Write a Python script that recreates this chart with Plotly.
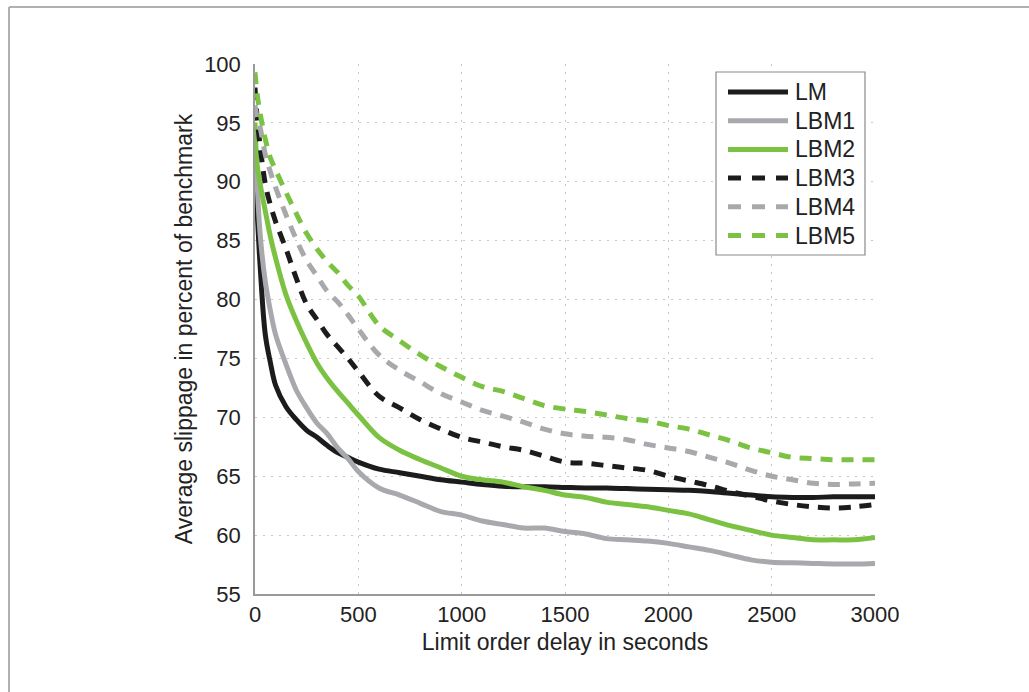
import plotly.graph_objects as go

# ---------------- data ----------------
delay = [0, 10, 25, 50, 75, 100, 150, 200, 250, 300, 350, 400, 450, 500,
         600, 700, 800, 900, 1000, 1100, 1200, 1300, 1400, 1500, 1600, 1700,
         1800, 1900, 2000, 2100, 2200, 2300, 2400, 2500, 2600, 2700, 2800,
         2900, 3000]

LM = [90.0, 87.5, 82.8, 77.0, 74.6, 72.7, 70.9, 69.8, 68.9, 68.3, 67.6, 67.0,
      66.6, 66.2, 65.6, 65.3, 65.0, 64.7, 64.5, 64.3, 64.15, 64.1, 64.1, 64.05,
      64.0, 64.0, 63.95, 63.9, 63.85, 63.8, 63.7, 63.55, 63.4, 63.25, 63.2,
      63.2, 63.25, 63.25, 63.25]
LBM1 = [94.0, 90.0, 85.5, 81.5, 79.0, 77.0, 74.5, 72.3, 70.8, 69.5, 68.6, 67.4,
        66.5, 65.4, 64.0, 63.4, 62.7, 62.0, 61.7, 61.2, 60.9, 60.6, 60.6, 60.3,
        60.1, 59.7, 59.6, 59.5, 59.3, 59.0, 58.7, 58.3, 57.9, 57.7, 57.65,
        57.6, 57.55, 57.55, 57.6]
LBM2 = [95.0, 91.5, 89.8, 87.5, 85.3, 83.5, 80.4, 78.2, 76.3, 74.6, 73.3, 72.2,
        71.2, 70.2, 68.3, 67.2, 66.4, 65.7, 65.0, 64.7, 64.5, 64.1, 63.8, 63.4,
        63.2, 62.8, 62.6, 62.4, 62.1, 61.8, 61.3, 60.8, 60.4, 60.0, 59.8, 59.6,
        59.6, 59.6, 59.8]
LBM3 = [98.0, 95.5, 93.0, 89.8, 88.0, 86.6, 84.3, 81.8, 79.6, 78.3, 77.0, 76.0,
        75.0, 73.9, 71.8, 70.8, 69.8, 69.0, 68.3, 67.9, 67.5, 67.2, 66.7, 66.2,
        66.1, 65.9, 65.7, 65.5, 65.0, 64.6, 64.2, 63.7, 63.3, 62.9, 62.6, 62.4,
        62.3, 62.4, 62.6]
LBM4 = [96.5, 95.5, 94.6, 92.3, 90.8, 89.5, 87.2, 85.1, 83.3, 82.0, 80.7, 79.8,
        78.7, 77.5, 75.3, 74.0, 73.0, 72.0, 71.3, 70.6, 70.1, 69.6, 69.0, 68.6,
        68.4, 68.3, 68.1, 67.7, 67.4, 67.1, 66.6, 66.1, 65.5, 65.0, 64.7, 64.4,
        64.3, 64.35, 64.4]
LBM5 = [99.3, 97.5, 95.8, 93.6, 92.0, 91.0, 89.1, 87.3, 85.6, 84.3, 83.2, 82.3,
        81.2, 80.3, 77.8, 76.5, 75.3, 74.3, 73.4, 72.6, 72.2, 71.6, 71.0, 70.7,
        70.5, 70.2, 69.9, 69.7, 69.3, 69.0, 68.5, 68.0, 67.4, 67.0, 66.6, 66.5,
        66.4, 66.4, 66.4]

series_names = ["LM", "LBM1", "LBM2", "LBM3", "LBM4", "LBM5"]
series_values = [LM, LBM1, LBM2, LBM3, LBM4, LBM5]

x_ticks = [0, 500, 1000, 1500, 2000, 2500, 3000]
y_ticks = [55, 60, 65, 70, 75, 80, 85, 90, 95, 100]

x_title = "Limit order delay in seconds"
y_title = "Average slippage in percent of benchmark"

# ---------------- styles ----------------
BLACK = "#1c1c1c"
GREY = "#a7a9ac"
GREEN = "#7cc242"
colors = [BLACK, GREY, GREEN, BLACK, GREY, GREEN]
dashes = ["solid", "solid", "solid", "12px,9px", "12px,9px", "12px,9px"]
LW = 5
FONT = "Liberation Sans, Arial, Helvetica, sans-serif"
TXT = "#222222"

W, H = 1029, 692
L, R, T, B = 255, 875, 64, 594  # plot area in pixels


def px(xp):
    return (xp - L) / (R - L)


def py(yp):
    return (B - yp) / (B - T)


fig = go.Figure()
for name, vals, c, d in zip(series_names, series_values, colors, dashes):
    fig.add_trace(go.Scatter(x=delay, y=vals, mode="lines", name=name,
                             line=dict(color=c, width=LW, dash=d),
                             line_shape="spline", showlegend=False))

shapes = []
annotations = []

# outer frame (top and left edges visible in the reference)
shapes.append(dict(type="line", xref="paper", yref="paper",
                   x0=px(9), x1=px(W + 5), y0=py(7), y1=py(7),
                   line=dict(color="#b0b0b0", width=2)))
shapes.append(dict(type="line", xref="paper", yref="paper",
                   x0=px(9), x1=px(9), y0=py(7), y1=py(H + 5),
                   line=dict(color="#b0b0b0", width=2)))

# custom legend box
shapes.append(dict(type="rect", xref="paper", yref="paper",
                   x0=px(716), x1=px(865), y0=py(72), y1=py(255),
                   fillcolor="white", line=dict(color="#8a8a8a", width=1.2),
                   layer="above"))
row0, step = 92, 28.7
for i, (name, c, d) in enumerate(zip(series_names, colors, dashes)):
    yy = row0 + i * step
    shapes.append(dict(type="line", xref="paper", yref="paper",
                       x0=px(728), x1=px(788), y0=py(yy), y1=py(yy),
                       line=dict(color=c, width=LW,
                                 dash=("solid" if d == "solid" else "13px,11px")),
                       layer="above"))
    annotations.append(dict(text=name, xref="paper", yref="paper",
                            x=px(793), y=py(yy), xanchor="left", yanchor="middle",
                            showarrow=False,
                            font=dict(family=FONT, size=23, color=TXT)))

fig.update_layout(
    width=W, height=H,
    margin=dict(l=L, r=W - R, t=T, b=H - B, pad=0),
    paper_bgcolor="white", plot_bgcolor="white",
    font=dict(family=FONT, size=22, color=TXT),
    shapes=shapes, annotations=annotations,
    showlegend=False,
)
fig.update_xaxes(range=[0, 3000], tickvals=x_ticks, ticktext=[str(v) for v in x_ticks],
                 showline=True, linecolor="#9a9a9a", linewidth=1.5,
                 showgrid=True, gridcolor="#c8c8c8", gridwidth=1, griddash="2px,6px",
                 zeroline=False, ticks="", ticklabelstandoff=0,
                 tickfont=dict(size=22, color=TXT),
                 title=dict(text=x_title, font=dict(size=23, color=TXT), standoff=8))
fig.update_yaxes(range=[55, 100], tickvals=y_ticks, ticktext=[str(v) for v in y_ticks],
                 showline=True, linecolor="#9a9a9a", linewidth=1.5,
                 showgrid=True, gridcolor="#c8c8c8", gridwidth=1, griddash="2px,6px",
                 zeroline=False, ticks="", ticklabelstandoff=8,
                 tickfont=dict(size=22, color=TXT),
                 title=dict(text=y_title, font=dict(size=23, color=TXT), standoff=5))

fig.write_html("out.html")
